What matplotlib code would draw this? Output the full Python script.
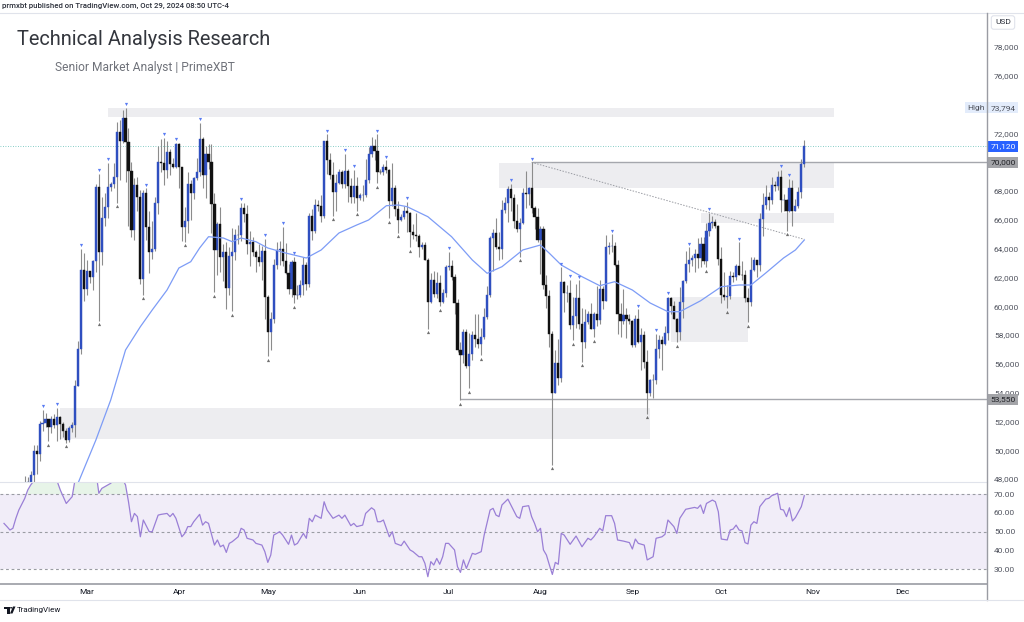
import matplotlib
matplotlib.use("Agg")
import matplotlib.pyplot as plt
import matplotlib.dates as mdates
import matplotlib.transforms as mtrans
from matplotlib.patches import Rectangle, Polygon, Circle
from matplotlib.lines import Line2D
from matplotlib.ticker import FuncFormatter, FixedLocator
import numpy as np
import pandas as pd

plt.rcParams['font.family'] = ['Roboto', 'DejaVu Sans']

# ---------------- data ----------------
start_date = "2024-02-01"
end_date = "2024-10-29"

opens = [
    # Feb
    42580, 43080, 43190, 43000, 42580, 42700, 43090, 44340, 45290, 47150, 47770, 48290, 49950, 49730, 51830,
    51920, 52140, 51650, 52140, 51780, 52280, 51850, 51320, 50740, 51570, 51730, 54480, 57060, 62500,
    # Mar
    61200, 62430, 62040, 63130, 68300, 63800, 66100, 66900, 68300, 68500, 69000, 72100, 71450, 73100, 71400,
    69400, 65300, 68400, 67600, 61900, 67900, 65500, 63800, 64000, 67200, 70000, 69950, 69500, 70750, 69900, 69650,
    # Apr
    71300, 69700, 65500, 65950, 68500, 67850, 68900, 69350, 71650, 69150, 70600, 70000, 67100, 63900, 65700,
    63450, 63800, 61300, 63500, 63800, 64950, 64950, 66850, 66400, 64300, 64500, 63750, 63400, 63100, 63850,
    # May
    60650, 58250, 59100, 62900, 63900, 64000, 63150, 62300, 61200, 63100, 60800, 60800, 61450, 62900, 61550,
    66250, 65250, 67050, 66950, 66250, 71450, 70150, 69150, 67950, 68550, 69300, 68500, 69400, 68350, 67600, 68350,
    # Jun
    67500, 67750, 67750, 68800, 70550, 71100, 70800, 69350, 69300, 69650, 69500, 67300, 68250, 66750, 66000,
    66200, 66650, 66500, 65150, 64950, 64850, 64100, 64250, 63200, 60300, 61800, 60850, 61600, 60300, 60900,
    # Jul
    62700, 62800, 62050, 60200, 57000, 56650, 58250, 55850, 56700, 58000, 57700, 57350, 57900, 59250, 60800,
    64750, 65100, 64100, 63950, 66700, 67150, 68150, 67550, 65950, 65400, 65800, 67900, 67800, 68250, 66800, 66200,
    # Aug
    64600, 65350, 61500, 60700, 58100, 54000, 56050, 55050, 61700, 60900, 60900, 58700, 59350, 60600, 58750,
    57550, 58900, 59500, 58450, 59500, 59050, 61200, 60400, 64100, 64200, 64200, 62850, 59450, 59000, 59400, 59100,
    # Sep
    58950, 57300, 59150, 57500, 58000, 56150, 53950, 54850, 54900, 57050, 57650, 57350, 58150, 60550, 60000,
    59150, 58200, 60300, 61750, 62950, 63200, 63350, 63600, 63350, 64300, 63150, 65200, 65800, 65850, 65600,
    # Oct
    63300, 60800, 60650, 60750, 62100, 62050, 62800, 62200, 62150, 60600, 60300, 62500, 63200, 62850, 66050,
    67050, 67600, 67400, 68400, 68350, 69000, 67400, 67400, 66650, 68200, 66650, 67000, 67950, 69900,
]
highs = [
    43300, 43480, 43380, 43120, 43500, 43380, 44370, 45600, 48200, 48170, 48580, 50350, 50370, 52040, 52820,
    52580, 52180, 52380, 52490, 52970, 52370, 52000, 51560, 51700, 51960, 54880, 57560, 64000, 63680,
    63200, 62450, 63220, 68500, 69200, 67600, 67900, 69950, 68650, 69950, 72800, 72950, 73650, 73794, 72400,
    70000, 68900, 68950, 68100, 68100, 68200, 66650, 65950, 67600, 71150, 71600, 71700, 71500, 70900, 70300, 71350,
    71350, 69700, 66900, 69300, 68750, 69000, 70300, 72750, 71750, 71150, 71250, 71250, 67900, 65850, 66900,
    64350, 64500, 64100, 65450, 65400, 65650, 67200, 67200, 67050, 65250, 64800, 63900, 64350, 64200, 64700,
    60800, 59600, 63300, 64500, 64550, 65500, 64400, 62950, 63250, 63450, 61500, 61800, 63450, 63100, 66450,
    66750, 67450, 67400, 67700, 71500, 71950, 70650, 70050, 69200, 69550, 69500, 70600, 69550, 68900, 69500, 69000,
    67850, 68450, 70250, 71050, 71750, 71600, 71950, 69550, 69900, 70150, 69550, 69950, 68400, 67300, 66400,
    66950, 67250, 66550, 65700, 66450, 65050, 64500, 64500, 63350, 62300, 62450, 62350, 62200, 61200, 62850,
    63800, 63250, 62250, 60500, 57500, 58450, 58450, 58150, 58300, 59450, 59450, 58500, 59850, 61400, 64850,
    65350, 66100, 65150, 67400, 67600, 68350, 68500, 67800, 67100, 66100, 68200, 69400, 68300, 70000, 66950, 66850,
    65600, 65600, 62200, 61100, 58300, 57000, 57700, 62700, 61750, 61450, 61850, 60650, 61550, 61800, 59850,
    59800, 59650, 60250, 59600, 61400, 61800, 61400, 64950, 64500, 65000, 64500, 63200, 60200, 61200, 59900, 59450,
    59050, 59400, 59800, 58500, 58300, 57000, 54950, 55300, 58100, 58000, 57950, 58600, 60650, 60650, 60400,
    59200, 61350, 61800, 63850, 64100, 63550, 64000, 64750, 64800, 64800, 65800, 66500, 66250, 66050, 65650,
    64150, 62350, 61450, 62450, 62350, 62950, 64450, 63150, 62500, 61300, 63400, 63450, 63250, 66450, 67900,
    68400, 67950, 68950, 68700, 69400, 69500, 67800, 67450, 68850, 68750, 67450, 68300, 70250, 71550,
]
lows = [
    41880, 42580, 42900, 42260, 42260, 42580, 42790, 44330, 45250, 46900, 47630, 47720, 48350, 49290, 51330,
    51620, 50650, 51180, 51550, 50640, 50800, 50950, 50530, 50590, 51300, 50900, 54460, 56700, 60400,
    60800, 61600, 61150, 62350, 59000, 62850, 65600, 66100, 68000, 68200, 67200, 68800, 71350, 68600, 65600,
    64800, 64600, 66600, 61550, 60800, 64600, 62300, 63300, 63850, 66400, 69300, 68400, 68900, 69100, 69600, 69600,
    68200, 64550, 64500, 65100, 66000, 67450, 68800, 69050, 68250, 67500, 69550, 65100, 61000, 62150, 62350,
    61750, 59800, 60800, 59650, 63200, 64300, 64550, 65850, 63650, 62800, 63500, 62400, 62800, 61800, 59150,
    56550, 56950, 58850, 62600, 62900, 62800, 62250, 60850, 60650, 60200, 60500, 60650, 60800, 61150, 61350,
    64600, 65100, 66650, 65850, 66100, 69200, 68850, 66300, 66650, 68500, 68200, 68250, 67250, 67150, 67150, 66650,
    67400, 67300, 67600, 68550, 70400, 70150, 68550, 69200, 69150, 69250, 66100, 66950, 66300, 65100, 65900,
    66050, 65150, 64100, 64700, 64550, 63400, 63950, 63200, 58450, 60250, 60650, 60600, 60000, 60250, 60650,
    62500, 61800, 59450, 56800, 53500, 56050, 55750, 54300, 56300, 57200, 57100, 56600, 57750, 59150, 60650,
    62450, 63950, 63250, 63300, 66450, 65850, 66600, 65450, 65150, 63450, 65750, 66800, 67050, 66500, 65350, 64500,
    62250, 61200, 59850, 57150, 49000, 53950, 54550, 54750, 59600, 60300, 58400, 57650, 58500, 58450, 56150,
    57100, 58800, 58400, 57850, 58600, 58800, 59800, 60350, 63600, 63800, 62800, 58100, 57900, 58800, 57800, 58750,
    57200, 57150, 57450, 55600, 55700, 52550, 53750, 53650, 54600, 56400, 55550, 57300, 57650, 59500, 59100,
    57500, 57650, 59200, 61650, 62400, 62800, 62400, 62650, 62700, 62950, 62700, 64850, 65450, 65450, 62900,
    60200, 60450, 59850, 60500, 61700, 61850, 62150, 61850, 60300, 58900, 60050, 62450, 62050, 62450, 64850,
    66750, 66700, 67100, 68000, 68100, 66550, 66600, 65250, 66550, 65550, 66600, 66800, 67550, 69700,
]
closes = [
    43080, 43190, 43000, 42580, 42700, 43090, 44340, 45290, 47150, 47770, 48290, 49950, 49730, 51830, 51920,
    52140, 51650, 52140, 51780, 52280, 51850, 51320, 50740, 51570, 51730, 54480, 57060, 62500, 61200,
    62430, 62040, 63130, 68300, 63800, 66100, 66900, 68300, 68500, 69000, 72100, 71450, 73100, 71400, 69400,
    65300, 68400, 67600, 61900, 67900, 65500, 63800, 64000, 67200, 70000, 69950, 69500, 70750, 69900, 69650, 71300,
    69700, 65500, 65950, 68500, 67850, 68900, 69350, 71650, 69150, 70600, 70000, 67100, 63900, 65700, 63450,
    63800, 61300, 63500, 63800, 64950, 64950, 66850, 66400, 64300, 64500, 63750, 63400, 63100, 63850, 60650,
    58250, 59100, 62900, 63900, 64000, 63150, 62300, 61200, 63100, 60800, 60800, 61450, 62900, 61550, 66250,
    65250, 67050, 66950, 66250, 71450, 70150, 69150, 67950, 68550, 69300, 68500, 69400, 68350, 67600, 68350, 67500,
    67750, 67750, 68800, 70550, 71100, 70800, 69350, 69300, 69650, 69500, 67300, 68250, 66750, 66000, 66200,
    66650, 66500, 65150, 64950, 64850, 64100, 64250, 63200, 60300, 61800, 60850, 61600, 60300, 60900, 62700,
    62800, 62050, 60200, 57000, 56650, 58250, 55850, 56700, 58000, 57700, 57350, 57900, 59250, 60800, 64750,
    65100, 64100, 63950, 66700, 67150, 68150, 67550, 65950, 65400, 65800, 67900, 67800, 68250, 66800, 66200, 64600,
    65350, 61500, 60700, 58100, 54000, 56050, 55050, 61700, 60900, 60900, 58700, 59350, 60600, 58750, 57550,
    58900, 59500, 58450, 59500, 59050, 61200, 60400, 64100, 64200, 64200, 62850, 59450, 59000, 59400, 59100, 58950,
    57300, 59150, 57500, 58000, 56150, 53950, 54850, 54900, 57050, 57650, 57350, 58150, 60550, 60000, 59150,
    58200, 60300, 61750, 62950, 63200, 63350, 63600, 63350, 64300, 63150, 65200, 65800, 65850, 65600, 63300,
    60800, 60650, 60750, 62100, 62050, 62800, 62200, 62150, 60600, 60300, 62500, 63200, 62850, 66050, 67050,
    67600, 67400, 68400, 68350, 69000, 67400, 67400, 66650, 68200, 66650, 67000, 67950, 69900, 71120,
]

ma_dates = ["02-27", "03-04", "03-09", "03-14", "03-19", "03-23", "03-28", "04-01", "04-05", "04-08",
            "04-11", "04-16", "04-19", "04-22", "04-27", "05-01", "05-07", "05-14", "05-19", "05-25",
            "05-31", "06-04", "06-10", "06-14", "06-17", "06-24", "07-02", "07-09", "07-14", "07-19",
            "07-26", "08-01", "08-04", "08-08", "08-15", "08-21", "08-26", "09-01", "09-07", "09-13",
            "09-17", "09-24", "10-01", "10-07", "10-11", "10-16", "10-22", "10-26", "10-29"]
ma_values = [47730, 50716, 53493, 56965, 58583, 59743, 61132, 62660, 63097, 64049,
             64833, 64743, 64486, 64743, 64486, 64049, 63701, 63354, 63910, 65090,
             65646, 65993, 66986, 67035, 66917, 66222, 64833, 63215, 62292, 62750,
             63910, 64257, 63681, 62868, 62056, 61431, 61708, 61132, 60229, 59625,
             59625, 60382, 61361, 61479, 61479, 62313, 63354, 63910, 64604]

rsi_dates = ["02-02", "02-03", "02-04", "02-05", "02-06", "02-07", "02-09", "02-10", "02-11", "02-13",
             "02-15", "02-18", "02-20", "02-21", "02-23", "02-24", "02-25", "02-26", "02-28", "03-01",
             "03-03", "03-04", "03-05", "03-06", "03-09", "03-11", "03-13", "03-14", "03-15", "03-16",
             "03-17", "03-18", "03-19", "03-20", "03-22", "03-23", "03-25", "03-26", "03-28", "03-29",
             "03-30", "03-31", "04-02", "04-03", "04-04", "04-05", "04-06", "04-08", "04-09", "04-10",
             "04-11", "04-13", "04-14", "04-15", "04-16", "04-17", "04-18", "04-19", "04-21", "04-22",
             "04-23", "04-24", "04-26", "04-27", "04-29", "04-30", "05-01", "05-02", "05-03", "05-05",
             "05-06", "05-08", "05-09", "05-10", "05-11", "05-13", "05-14", "05-15", "05-16", "05-17",
             "05-19", "05-20", "05-21", "05-23", "05-25", "05-26", "05-27", "05-29", "05-30", "05-31",
             "06-02", "06-03", "06-05", "06-06", "06-07", "06-08", "06-09", "06-11", "06-12", "06-13",
             "06-15", "06-16", "06-18", "06-19", "06-21", "06-22", "06-23", "06-24", "06-25", "06-26",
             "06-27", "06-28", "06-29", "06-30", "07-01", "07-03", "07-04", "07-05", "07-06", "07-07",
             "07-09", "07-10", "07-12", "07-13", "07-15", "07-16", "07-17", "07-18", "07-19", "07-21",
             "07-22", "07-24", "07-25", "07-26", "07-28", "07-29", "07-30", "07-31", "08-01", "08-02",
             "08-03", "08-04", "08-05", "08-06", "08-07", "08-08", "08-09", "08-11", "08-13", "08-15",
             "08-17", "08-18", "08-19", "08-21", "08-22", "08-23", "08-25", "08-26", "08-27", "08-29",
             "08-31", "09-01", "09-02", "09-03", "09-05", "09-06", "09-08", "09-09", "09-11", "09-12",
             "09-13", "09-15", "09-16", "09-17", "09-19", "09-22", "09-23", "09-24", "09-25", "09-26",
             "09-28", "09-29", "09-30", "10-01", "10-03", "10-04", "10-05", "10-06", "10-07", "10-08",
             "10-09", "10-10", "10-11", "10-12", "10-13", "10-14", "10-16", "10-17", "10-18", "10-20",
             "10-21", "10-22", "10-23", "10-24", "10-25", "10-26", "10-28", "10-29"]
rsi_values = [54.4, 52.7, 50.9, 51.8, 57.1, 61.5, 67.7, 72.1, 74.8, 79.0,
              82.0, 80.0, 76.5, 72.1, 65.0, 66.8, 68.6, 78.0, 88.0, 85.0,
              84.0, 82.0, 70.4, 73.0, 75.7, 79.0, 78.0, 74.8, 65.9, 55.3,
              59.7, 58.0, 47.3, 56.2, 50.0, 50.0, 58.8, 59.2, 59.7, 58.0,
              59.7, 57.1, 47.3, 49.1, 52.7, 52.7, 55.3, 59.2, 53.5, 55.3,
              54.4, 42.9, 45.6, 42.0, 42.9, 39.0, 43.8, 44.7, 47.3, 51.8,
              50.9, 46.5, 45.6, 43.8, 42.9, 39.4, 33.7, 37.6, 48.2, 50.0,
              48.2, 43.3, 48.2, 42.9, 43.8, 49.1, 46.5, 57.1, 55.3, 58.8,
              57.1, 65.9, 61.5, 57.1, 58.8, 57.1, 58.8, 53.2, 54.4, 52.7,
              53.5, 59.7, 62.7, 61.5, 55.3, 55.3, 56.2, 47.3, 50.0, 43.8,
              42.6, 45.0, 40.3, 39.4, 36.7, 36.7, 33.2, 26.1, 34.1, 32.3,
              35.8, 32.7, 36.7, 43.8, 43.8, 40.3, 31.4, 28.4, 35.0, 30.5,
              38.5, 38.0, 39.4, 48.2, 61.5, 62.4, 58.8, 58.0, 64.2, 67.3,
              64.2, 58.0, 57.1, 63.3, 63.8, 58.0, 54.4, 50.0, 51.8, 40.3,
              37.6, 32.3, 27.3, 33.7, 32.7, 49.1, 48.2, 43.3, 47.7, 42.0,
              46.5, 45.6, 47.3, 51.8, 50.4, 58.5, 58.5, 54.4, 45.6, 45.0,
              44.2, 40.8, 46.1, 43.8, 42.9, 35.0, 36.7, 46.5, 47.3, 48.6,
              56.2, 52.7, 49.1, 57.1, 61.9, 62.9, 62.4, 64.2, 59.7, 65.0,
              66.8, 65.9, 60.6, 46.1, 45.6, 50.9, 51.4, 53.5, 50.9, 50.4,
              44.2, 43.5, 53.5, 55.3, 54.4, 63.3, 67.3, 67.7, 69.1, 70.4,
              61.9, 61.5, 58.0, 62.7, 55.7, 57.5, 63.3, 69.1]

high_fractals = ["02-15", "02-20", "02-28", "03-05", "03-08", "03-14", "03-21", "03-27", "03-31", "04-08",
                 "04-22", "04-30", "05-06", "05-10", "05-21", "05-27", "05-30", "06-07", "06-10", "06-17",
                 "07-01", "07-22", "07-29", "08-08", "08-11", "08-14", "08-25", "09-03", "09-09", "09-13",
                 "09-20", "09-27", "10-07", "10-21", "10-24"]
low_fractals = ["02-17", "02-23", "03-05", "03-11", "03-20", "04-03", "04-13", "04-19", "05-01", "05-10",
                "05-23", "05-31", "06-07", "06-11", "06-14", "06-18", "06-24", "06-28", "07-05", "07-08",
                "07-12", "07-25", "08-05", "08-12", "08-15", "08-19", "09-06", "09-16", "09-26", "10-03",
                "10-10", "10-23"]

zone_starts = ["2024-03-08", "2024-07-18", "2024-09-24", "2024-09-14", "2024-02-21"]
zone_ends = ["2024-11-08", "2024-11-08", "2024-11-08", "2024-10-10", "2024-09-07"]
zone_lows = [73150, 68190, 65760, 57500, 50760]
zone_highs = [73770, 69970, 66460, 60670, 52920]

level_dates = ["2024-07-29", "2024-07-05"]
level_values = [70000, 53550]
level_labels = ["70,000", "53,550"]
trend_dates = ["2024-07-29", "2024-10-29"]
trend_values = [70000, 64650]
last_price = 71120
high_price = 73794

price_ticks = list(range(48000, 80000, 2000))
hidden_price_ticks = [70000, 74000]   # covered by the level / High badges in the reference
rsi_ticks = [30, 40, 50, 60, 70]

# ---------------- layout ----------------
W, H = 1024, 622
fig = plt.figure(figsize=(W / 100, H / 100), dpi=100)
fig.patch.set_facecolor('white')


def fx(p):
    return p / W


def fy(p):
    return 1 - p / H


ax = fig.add_axes([0, fy(482.3), 987 / W, (482.3 - 13) / H])
axr = fig.add_axes([0, fy(583.7), 987 / W, (583.7 - 482.3) / H])

mar1 = mdates.date2num(pd.Timestamp("2024-03-01"))
xl = (mar1 - 87 / 2.964, mar1 + (987 - 87) / 2.964)
for a in (ax, axr):
    a.set_xlim(*xl)
    for s in a.spines.values():
        s.set_visible(False)
    a.set_facecolor('none')
ax.set_ylim(47778, 80368)
axr.set_ylim(22.38, 76.23)

dates = pd.date_range(start_date, end_date, freq='D')
x = mdates.date2num(dates)
o = np.array(opens, float)
h = np.array(highs, float)
l = np.array(lows, float)
c = np.array(closes, float)
up = c >= o

UP = '#2f4fc0'
DN = '#111111'

# zones
for s, e, lo, hi in zip(zone_starts, zone_ends, zone_lows, zone_highs):
    xs, xe = mdates.date2num(pd.Timestamp(s)), mdates.date2num(pd.Timestamp(e))
    ax.add_patch(Rectangle((xs, lo), xe - xs, hi - lo, facecolor='#ededf0', edgecolor='none', zorder=1))

# horizontal levels
for d, v in zip(level_dates, level_values):
    ax.plot([mdates.date2num(pd.Timestamp(d)), xl[1]], [v, v], color='#a5a7ad', lw=1.0, zorder=2,
            solid_capstyle='butt')
# trend line
ax.plot(mdates.date2num(pd.to_datetime(trend_dates)), trend_values, color='#9a9ca3', lw=0.7,
        ls=(0, (1.5, 1.5)), zorder=2)
# last price dotted line
ax.axhline(last_price, color='#5fbdb5', lw=0.6, ls=(0, (1, 2)), zorder=2)

# candles
ax.vlines(x, l, h, color='#8c8c8c', lw=0.8, zorder=3)
ax.bar(x[up], (c - o)[up], bottom=o[up], width=0.72, color=UP, edgecolor=UP, lw=0.3, zorder=4)
ax.bar(x[~up], (o - c)[~up], bottom=c[~up], width=0.72, color=DN, edgecolor=DN, lw=0.3, zorder=4)

# moving average
ma_x = mdates.date2num(pd.to_datetime(["2024-" + d for d in ma_dates]))
ax.plot(ma_x, ma_values, color='#7d9cf6', lw=0.9, zorder=5)

# fractal markers
key = list(dates.strftime('%m-%d'))
hi_idx = [key.index(d) for d in high_fractals]
lo_idx = [key.index(d) for d in low_fractals]
tr_up = mtrans.offset_copy(ax.transData, fig=fig, y=2.6, units='points')
tr_dn = mtrans.offset_copy(ax.transData, fig=fig, y=-2.6, units='points')
ax.plot(x[hi_idx], h[hi_idx], 'v', ms=2.3, color='#5a7cf3', mec='none', transform=tr_up, zorder=6)
ax.plot(x[lo_idx], l[lo_idx], '^', ms=2.3, color='#707070', mec='none', transform=tr_dn, zorder=6)

# price axis
ax.yaxis.tick_right()
ax.yaxis.set_major_locator(FixedLocator(price_ticks))
ax.yaxis.set_major_formatter(FuncFormatter(
    lambda v, p: "" if int(round(v)) in hidden_price_ticks else f"{v:,.0f}"))
ax.tick_params(axis='y', length=0, pad=5, labelsize=6, labelcolor='#50535e')
ax.tick_params(axis='x', bottom=False, labelbottom=False)

# badges
bt = mtrans.blended_transform_factory(ax.transAxes, ax.transData)
ax.text(1003 / 987, last_price, f"{last_price:,}", transform=bt, ha='center', va='center', fontsize=6,
        color='white', zorder=10, clip_on=False,
        bbox=dict(boxstyle='square,pad=0.32', fc='#2962ff', ec='none'))
for v, lab in zip(level_values, level_labels):
    ax.text(1003 / 987, v, lab, transform=bt, ha='center', va='center', fontsize=6, color='#1e1f24',
            zorder=10, clip_on=False, bbox=dict(boxstyle='square,pad=0.32', fc='#a3a4a8', ec='none'))
ax.text(1003 / 987, high_price, f"{high_price:,}", transform=bt, ha='center', va='center', fontsize=6,
        color='#4a4d57', zorder=10, clip_on=False,
        bbox=dict(boxstyle='square,pad=0.32', fc='#e3ecfb', ec='none'))
ax.text(976 / 987, high_price, "High", transform=bt, ha='center', va='center', fontsize=6,
        color='#4a4d57', zorder=10, clip_on=False,
        bbox=dict(boxstyle='square,pad=0.32', fc='#e3ecfb', ec='none'))

# RSI pane
rx = mdates.date2num(pd.to_datetime(["2024-" + d for d in rsi_dates]))
rv = np.array(rsi_values)
axr.axhspan(30, 70, color='#7e57c2', alpha=0.1, lw=0, zorder=1)
for lv in (70, 50, 30):
    axr.axhline(lv, color='#9a9ca3', lw=0.8, ls=(0, (2.5, 2.5)), zorder=2)
axr.fill_between(rx, 70, rv, where=rv >= 70, interpolate=True, color='#4caf50', alpha=0.13, lw=0, zorder=2)
axr.plot(rx, rv, color='#9a7fd6', lw=0.9, zorder=3)
axr.yaxis.tick_right()
axr.yaxis.set_major_locator(FixedLocator(rsi_ticks))
axr.yaxis.set_major_formatter(FuncFormatter(lambda v, p: f"{v:.2f}"))
axr.tick_params(axis='y', length=0, pad=5, labelsize=6, labelcolor='#50535e')
axr.xaxis.set_major_locator(mdates.MonthLocator(bymonth=range(3, 13)))
axr.xaxis.set_major_formatter(mdates.DateFormatter('%b'))
axr.tick_params(axis='x', length=0, pad=4, labelsize=6, labelcolor='#131722')

# frame lines
def fline(x0, y0, x1, y1, color, lw):
    fig.add_artist(Line2D([fx(x0), fx(x1)], [fy(y0), fy(y1)], color=color, lw=lw,
                          transform=fig.transFigure, zorder=20))

fline(0, 12.5, 1024, 12.5, '#e0e3eb', 0.8)
fline(0, 482.3, 987, 482.3, '#e0e3eb', 0.8)
fline(0, 583.7, 987, 583.7, '#9a9ca3', 1.2)
fline(987, 12.5, 987, 600, '#9a9ca3', 1.0)
fline(0, 600, 1024, 600, '#e0e3eb', 0.8)

# texts
t_top = fig.text(fx(2), fy(5.5), "prmxbt published on TradingView.com, Oct 29, 2024 08:50 UTC-4",
                 ha='left', va='center', fontsize=5.5, color='#2a2e39', weight='medium')
t_title = fig.text(fx(17), fy(45), "Technical Analysis Research", ha='left', va='baseline',
                   fontsize=16, color='#33363d')
t_sub = fig.text(fx(55), fy(71), "Senior Market Analyst | PrimeXBT", ha='left', va='baseline',
                 fontsize=8.5, color='#6f727a')
fig.text(fx(1003), fy(22.5), "USD", ha='center', va='center', fontsize=6, color='#2a2e39',
         bbox=dict(boxstyle='round,pad=0.45,rounding_size=0.3', fc='white', ec='#e0e3eb', lw=0.8))
t_tv = fig.text(fx(17), fy(610), "TradingView", ha='left', va='center', fontsize=6.5, color='#131722')

# TradingView logo shapes
def pxpoly(pts):
    return [(fx(a), fy(b)) for a, b in pts]

fig.add_artist(Polygon(pxpoly([(4, 606.5), (9.5, 606.5), (9.5, 613.5), (7, 613.5), (7, 609), (4, 609)]),
                       closed=True, fc='#131722', ec='none', transform=fig.transFigure))
fig.add_artist(Circle((fx(11.2), fy(607.8)), 1.2 / W, fc='#131722', ec='none', transform=fig.transFigure))
fig.add_artist(Polygon(pxpoly([(13, 606.5), (15.5, 606.5), (12.5, 613.5), (10, 613.5)]),
                       closed=True, fc='#131722', ec='none', transform=fig.transFigure))

# fit header text widths to the reference
fig.canvas.draw()
rend = fig.canvas.get_renderer()
for t, target in [(t_title, 254), (t_sub, 178), (t_top, 225), (t_tv, 44)]:
    w = t.get_window_extent(rend).width
    t.set_fontsize(t.get_fontsize() * target / w)

fig.savefig("out.png", dpi=100, facecolor='white')
